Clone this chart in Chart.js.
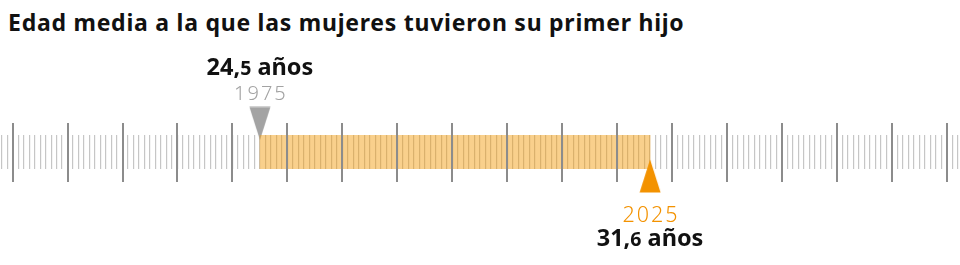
<!DOCTYPE html>
<html>
<head>
<meta charset="utf-8">
<script src="https://cdn.jsdelivr.net/npm/chart.js@4"></script>
<style>
  html, body { margin: 0; padding: 0; background: #fff; }
  #wrap { position: relative; width: 960px; height: 265px; }
  #title {
    position: absolute; left: 8px; top: 8px;
    font-family: "Noto Sans", sans-serif; font-weight: 700; font-size: 23px;
    letter-spacing: 0.75px;
    color: #111; line-height: 28px; white-space: nowrap;
  }
  canvas { position: absolute; left: 0; top: 0; }
</style>
</head>
<body>
<div id="wrap">
  <div id="title">Edad media a la que las mujeres tuvieron su primer hijo</div>
  <canvas id="ruler" width="960" height="265"></canvas>
</div>
<script>
// datos
const years = ['1975', '2025'];
const ages = [24.5, 31.6];
const unit = 'años';

// escala de la regla (años de edad)
const axisMin = 19.77;
const axisMax = 37.24;

// estilo
const bandColor = 'rgba(242, 150, 0, 0.45)';
const markerColors = ['#a3a3a3', '#f39200'];
const yearColors = ['#a3a3a3', '#f39200'];
const markerY = [1.68, -1.41]; // arriba / abajo de la banda (unidades del eje y)

// triangles as point images
function triangle(color, down) {
  const c = document.createElement('canvas');
  c.width = 22; c.height = 34;
  const g = c.getContext('2d');
  g.fillStyle = color;
  g.beginPath();
  if (down) {
    g.moveTo(0.5, 0.5); g.lineTo(21.5, 0.5); g.lineTo(11, 33.5);
  } else {
    g.moveTo(11, 0.5); g.lineTo(21.5, 33.5); g.lineTo(0.5, 33.5);
  }
  g.closePath();
  g.fill();
  return c;
}
const markerImgs = [triangle(markerColors[0], true), triangle(markerColors[1], false)];

// labels next to the triangles
const markerLabels = {
  id: 'markerLabels',
  afterDatasetsDraw(chart) {
    const ctx = chart.ctx;
    const meta = chart.getDatasetMeta(1);
    meta.data.forEach((pt, i) => {
      const x = pt.x, y = pt.y;
      const up = i === 0;
      // year
      ctx.save();
      ctx.font = up ? '300 20px "Noto Sans"' : '300 21.5px "Noto Sans"';
      ctx.letterSpacing = '2px';
      ctx.fillStyle = yearColors[i];
      const yw = ctx.measureText(years[i]).width - 2;
      ctx.fillText(years[i], x - yw / 2, up ? y - 23.5 : y + 46);
      ctx.restore();

      // age with smaller decimal
      const parts = ages[i].toFixed(1).split('.');
      const big = parts[0] + ',';
      const small = parts[1];
      const rest = ' ' + unit;
      const fBig = '700 23.5px "Noto Sans"', fSmall = '700 19.5px "Noto Sans"';
      ctx.save();
      ctx.fillStyle = '#111';
      ctx.font = fBig;
      const w1 = ctx.measureText(big).width;
      const w3 = ctx.measureText(rest).width;
      ctx.font = fSmall;
      const w2 = ctx.measureText(small).width;
      const lx = x - (w1 + w2 + w3) / 2;
      const ly = up ? y - 48.5 : y + 70;
      ctx.font = fBig;
      ctx.fillText(big, lx, ly);
      ctx.font = fSmall;
      ctx.fillText(small, lx + w1, ly);
      ctx.font = fBig;
      ctx.fillText(rest, lx + w1 + w2, ly);
      ctx.restore();
    });
  }
};

const ctx = document.getElementById('ruler').getContext('2d');

const ruler = new Chart(ctx, {
  type: 'bar',
  data: {
    datasets: [{
      type: 'bar',
      label: 'Edad media',
      indexAxis: 'y',
      data: [{ x: [ages[0], ages[1]], y: 0 }],
      backgroundColor: bandColor,
      borderWidth: 0,
      barThickness: 34
    }, {
      type: 'scatter',
      label: 'Años',
      data: ages.map((a, i) => ({ x: a, y: markerY[i] })),
      pointStyle: markerImgs,
      pointRadius: 40,
      pointHoverRadius: 40,
      pointBorderWidth: 0,
      clip: false
    }]
  },
  options: {
    responsive: false,
    animation: false,
    events: [],
    layout: { autoPadding: false, padding: { top: 123, bottom: 83, left: 0, right: 0 } },
    plugins: { legend: { display: false }, tooltip: { enabled: false } },
    scales: {
      x: {
        type: 'linear', position: 'bottom', min: axisMin, max: axisMax, offset: false,
        ticks: { display: false, stepSize: 1, includeBounds: false },
        grid: { color: '#8c8c8c', lineWidth: 2, offset: false, drawTicks: true, tickLength: 13, z: 1 },
        border: { display: false }
      },
      xTop: {
        type: 'linear', position: 'top', min: axisMin, max: axisMax, offset: false,
        ticks: { display: false, stepSize: 1, includeBounds: false },
        grid: { color: '#8c8c8c', lineWidth: 2, offset: false, drawTicks: true, tickLength: 12, drawOnChartArea: false, z: 1 },
        border: { display: false }
      },
      xMinor: {
        type: 'linear', position: 'bottom', display: true, min: axisMin, max: axisMax, offset: false,
        ticks: { display: false, stepSize: 0.1, includeBounds: false },
        grid: { color: '#c6c6c6', lineWidth: 1.2, offset: false, drawTicks: false },
        border: { display: false }
      },
      y: {
        type: 'linear', min: -1, max: 1, offset: false, display: false
      }
    }
  },
  plugins: [markerLabels]
});
</script>
</body>
</html>
